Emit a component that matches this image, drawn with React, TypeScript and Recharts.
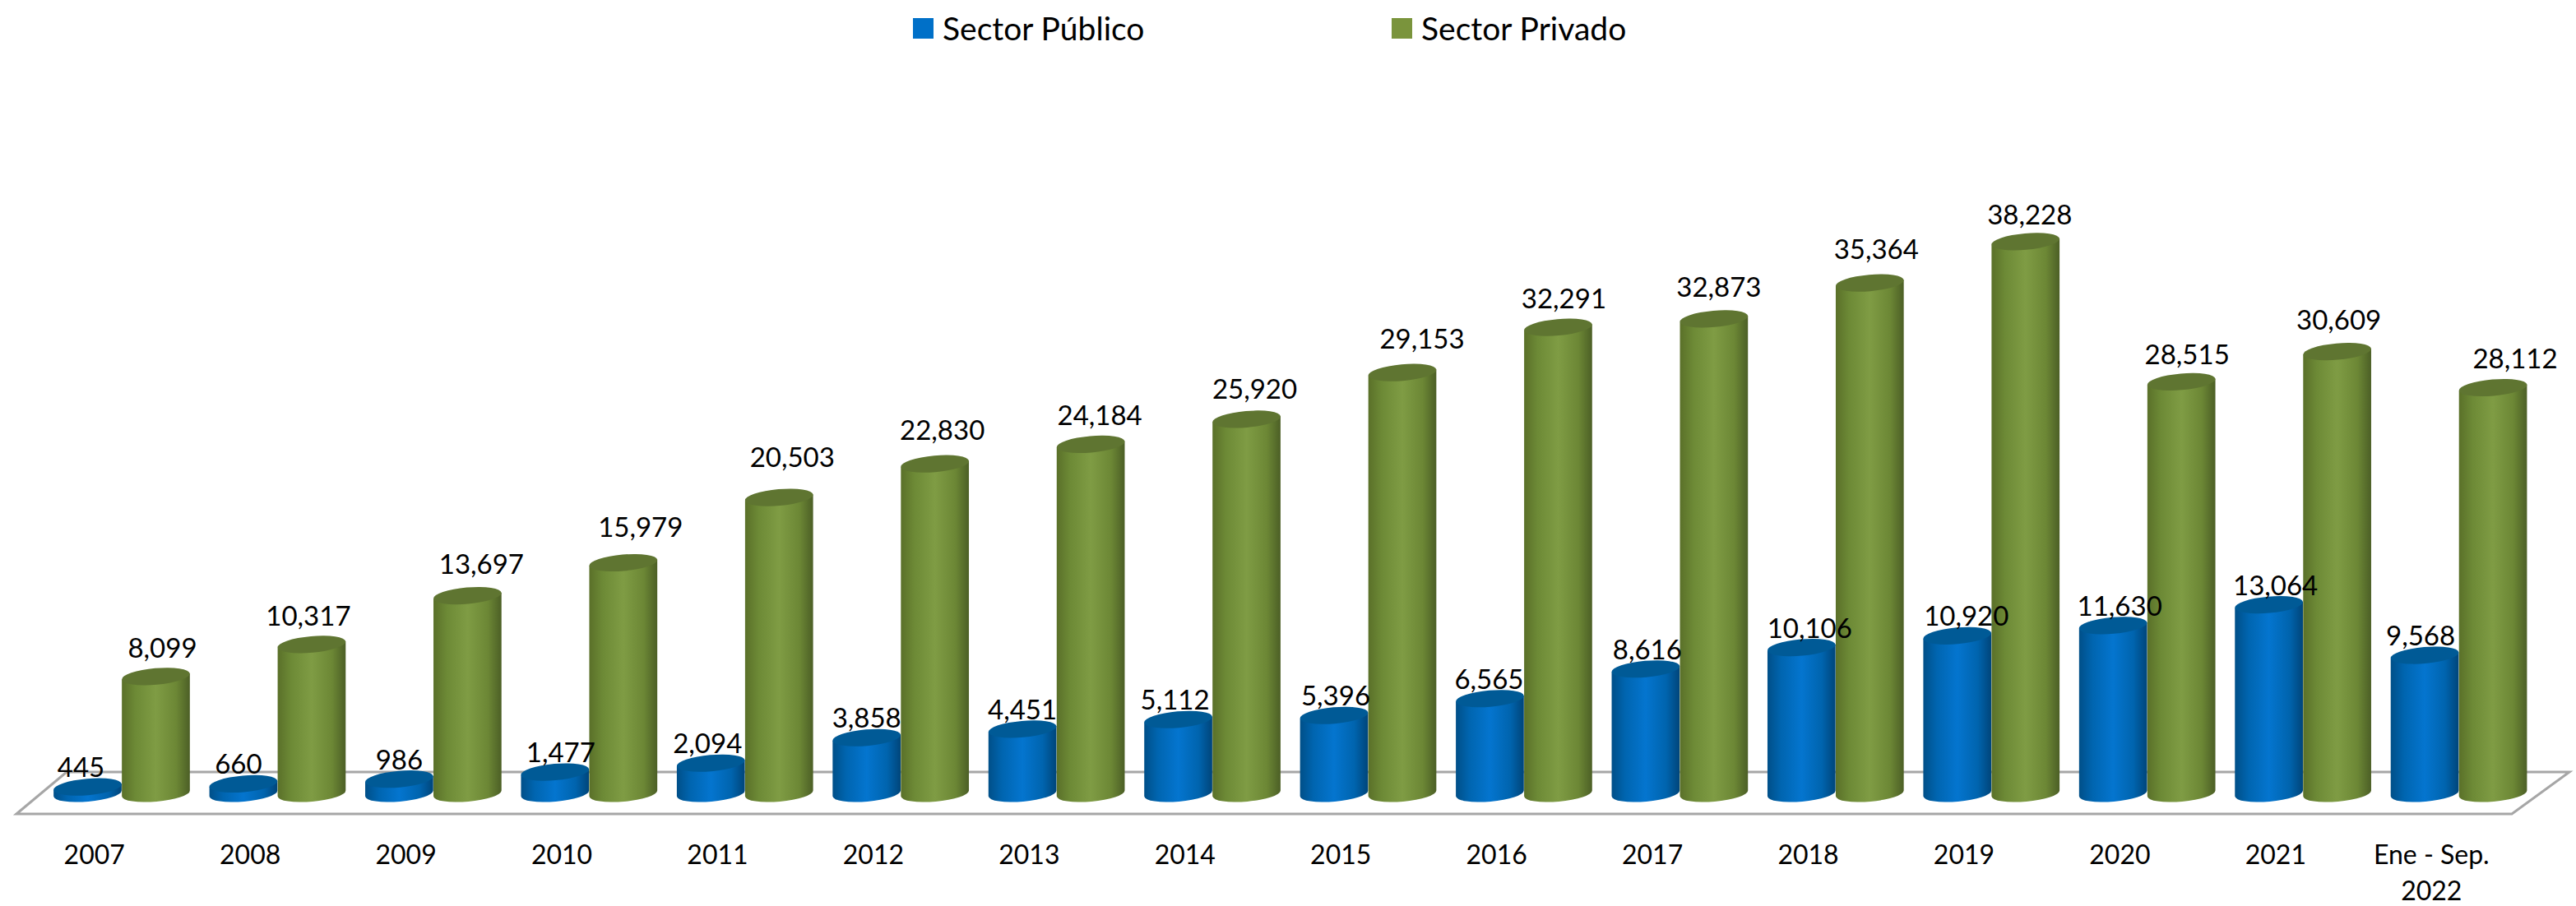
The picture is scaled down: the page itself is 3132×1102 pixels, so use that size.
import React from 'react';
import { ComposedChart, Bar, XAxis, YAxis, Legend, LabelList, usePlotArea } from 'recharts';

const categories = ['2007','2008','2009','2010','2011','2012','2013','2014','2015','2016','2017','2018','2019','2020','2021','Ene - Sep.|2022'];
const sectorPublico = [445,660,986,1477,2094,3858,4451,5112,5396,6565,8616,10106,10920,11630,13064,9568];
const sectorPrivado = [8099,10317,13697,15979,20503,22830,24184,25920,29153,32291,32873,35364,38228,28515,30609,28112];
const publicoLabelNudge = [-8,-6,0,7,-4,0,0,-4,2,-1,2,10,11,8,8,-5];
const privadoLabelNudge = [8,-4,17,21,16,9,11,10,24,7,6,8,5,7,2,27];
const privadoLabelLift = [36,36,40,44,50,42,36,38,42,36,40,42,34,34,40,36];

const data = categories.map((c, i) => ({ category: c, publico: sectorPublico[i], privado: sectorPrivado[i] }));
const FONT = 'Lato, "Noto Sans", sans-serif';
const TILT = 5;

const Cylinder = (p: any) => {
  const { x, y, width, height, grad, cap } = p;
  if (height == null) return null;
  const rx = width / 2;
  const ry = 10;
  const rad = (TILT * Math.PI) / 180;
  const dx = rx * Math.cos(rad);
  const dy = rx * Math.sin(rad);
  const cx = x + rx;
  const bottom = y + height;
  const side = `M${cx - dx},${y + dy} L${cx - dx},${bottom + dy} A${rx},${ry} ${-TILT} 0 0 ${cx + dx},${bottom - dy} L${cx + dx},${y - dy} Z`;
  return (
    <g>
      <path d={side} fill={`url(#${grad})`} />
      <ellipse cx={cx} cy={y} rx={rx} ry={ry} transform={`rotate(${-TILT} ${cx} ${y})`} fill={cap} />
    </g>
  );
};

const Floor = () => {
  const area = usePlotArea();
  if (!area) return null;
  const l = area.x;
  const r = area.x + area.width;
  const b = area.y + area.height;
  const pts = `${l - 33},${b + 25} ${l + 28},${b - 26} ${r + 40},${b - 26} ${r - 30},${b + 25}`;
  return <polygon points={pts} fill="#ffffff" stroke="#a6a6a6" strokeWidth={3} />;
};

const Tick = (p: any) => {
  const lines = String(p.payload.value).split('|');
  return (
    <g>
      {lines.map((t: string, i: number) => (
        <text key={t} x={p.x - 33} y={p.y + 65 + i * 44} textAnchor="middle" dominantBaseline="central" fontFamily={FONT} fontSize={32} fill="#000">{t}</text>
      ))}
    </g>
  );
};

const valueLabel = (nudge: number[], lift: (i: number) => number) => (p: any) => (
  <text x={p.x + p.width / 2 + nudge[p.index]} y={p.y - lift(p.index)} textAnchor="middle" dominantBaseline="central" fontFamily={FONT} fontSize={33} fill="#000">
    {Number(p.value).toLocaleString('en-US')}
  </text>
);

const LegendBox = (p: any) => (
  <div style={{ position: 'relative', height: 70, width: 3132 }}>
    {(p.payload || []).map((e: any, i: number) => (
      <div key={e.value} style={{ position: 'absolute', left: i === 0 ? 1110 : 1692, top: 0, display: 'flex', alignItems: 'flex-start' }}>
        <span style={{ display: 'block', width: 25, height: 25, marginTop: 22, background: e.color }} />
        <span style={{ marginLeft: 11, marginTop: 12, fontFamily: FONT, fontSize: 39, lineHeight: '44px', color: '#000', whiteSpace: 'nowrap' }}>{e.value}</span>
      </div>
    ))}
  </div>
);

export default function App() {
  return (
    <div style={{ width: 3132, height: 1102, background: '#fff', overflow: 'hidden' }}>
      <style>{`html,body{margin:0;padding:0;background:#fff}`}</style>
      <ComposedChart width={3132} height={1102} data={data} margin={{ top: 105, right: 48, bottom: 0, left: 53 }} barCategoryGap={12} barGap={0}>
        <defs>
          <linearGradient id="gradBlue" x1="0" x2="1" y1="0" y2="0">
            <stop offset="0" stopColor="#004f88" />
            <stop offset="0.2" stopColor="#0065b0" />
            <stop offset="0.5" stopColor="#0475cf" />
            <stop offset="0.8" stopColor="#0064ae" />
            <stop offset="1" stopColor="#00457a" />
          </linearGradient>
          <linearGradient id="gradGreen" x1="0" x2="1" y1="0" y2="0">
            <stop offset="0" stopColor="#5a7029" />
            <stop offset="0.2" stopColor="#6d8a36" />
            <stop offset="0.5" stopColor="#7f9c44" />
            <stop offset="0.8" stopColor="#6c8735" />
            <stop offset="1" stopColor="#4c5f26" />
          </linearGradient>
        </defs>
        <Floor />
        <XAxis dataKey="category" axisLine={false} tickLine={false} height={137} tick={<Tick />} interval={0} />
        <YAxis hide domain={[0, 45000]} />
        <Legend verticalAlign="top" align="left" itemSorter={null} wrapperStyle={{ top: 0, left: 0, width: 3132 }} content={<LegendBox />} />
        <Bar dataKey="publico" name="Sector Público" fill="#0070c8" isAnimationActive={false} shape={<Cylinder grad="gradBlue" cap="#005a96" />}>
          <LabelList dataKey="publico" content={valueLabel(publicoLabelNudge, () => 25)} />
        </Bar>
        <Bar dataKey="privado" name="Sector Privado" fill="#7a943c" isAnimationActive={false} shape={<Cylinder grad="gradGreen" cap="#5f7531" />}>
          <LabelList dataKey="privado" content={valueLabel(privadoLabelNudge, (i) => privadoLabelLift[i])} />
        </Bar>
      </ComposedChart>
    </div>
  );
}
